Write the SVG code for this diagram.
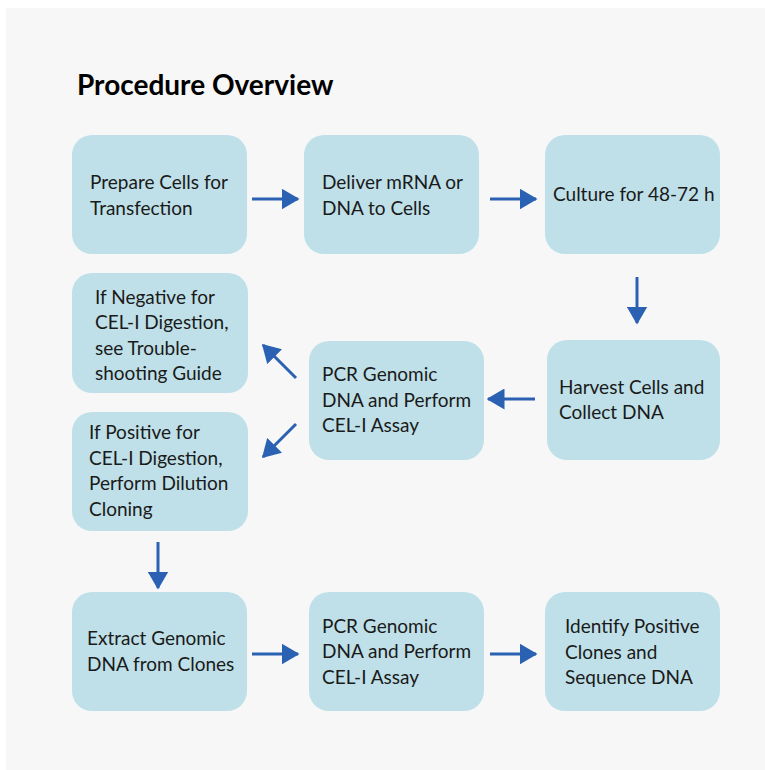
<svg xmlns="http://www.w3.org/2000/svg" width="765" height="770" viewBox="0 0 765 770">
<style>
.box{fill:#bfe0e8;}
.t{font-family:Lato,"Open Sans",sans-serif;font-size:19px;fill:#1a1a1a;}
.title{font-family:Lato,"Open Sans",sans-serif;font-size:28px;font-weight:bold;fill:#000;}
.c{stroke:#2b61b3;stroke-width:3;fill:none;marker-end:url(#ah);}
</style>
<defs>
<marker id="ah" markerWidth="6" markerHeight="7" refX="5.5" refY="3.5" orient="auto" markerUnits="strokeWidth">
<path d="M0,0 L6,3.5 L0,7 z" fill="#2b61b3"/>
</marker>
</defs>
<rect x="0" y="0" width="765" height="770" fill="#ffffff"/>
<rect x="6" y="8" width="759" height="762" fill="#f7f7f7"/>
<text class="title" x="77" y="95">Procedure Overview</text>
<g id="n1"><rect class="box" x="72" y="135" width="175" height="119" rx="20"/><text class="t" x="90" y="189">Prepare Cells for</text><text class="t" x="90" y="215">Transfection</text></g>
<g id="n2"><rect class="box" x="304" y="135" width="175" height="119" rx="20"/><text class="t" x="322" y="189">Deliver mRNA or</text><text class="t" x="322" y="215">DNA to Cells</text></g>
<g id="n3"><rect class="box" x="545" y="135" width="175" height="119" rx="20"/><text class="t" x="553" y="201">Culture for 48-72 h</text></g>
<g id="n4"><rect class="box" x="547" y="340" width="173" height="120" rx="20"/><text class="t" x="559" y="394">Harvest Cells and</text><text class="t" x="559" y="419">Collect DNA</text></g>
<g id="n5"><rect class="box" x="309" y="341" width="175" height="119" rx="20"/><text class="t" x="322" y="381">PCR Genomic</text><text class="t" x="322" y="407">DNA and Perform</text><text class="t" x="322" y="432">CEL-I Assay</text></g>
<g id="n6"><rect class="box" x="72" y="273" width="176" height="120" rx="20"/><text class="t" x="95" y="304">If Negative for</text><text class="t" x="95" y="329">CEL-I Digestion,</text><text class="t" x="95" y="355">see Trouble-</text><text class="t" x="95" y="380">shooting Guide</text></g>
<g id="n7"><rect class="box" x="72" y="412" width="176" height="119" rx="20"/><text class="t" x="89" y="439">If Positive for</text><text class="t" x="89" y="465">CEL-I Digestion,</text><text class="t" x="89" y="490">Perform Dilution</text><text class="t" x="89" y="516">Cloning</text></g>
<g id="n8"><rect class="box" x="72" y="592" width="175" height="119" rx="20"/><text class="t" x="87" y="645">Extract Genomic</text><text class="t" x="87" y="671">DNA from Clones</text></g>
<g id="n9"><rect class="box" x="309" y="592" width="175" height="119" rx="20"/><text class="t" x="322" y="633">PCR Genomic</text><text class="t" x="322" y="658">DNA and Perform</text><text class="t" x="322" y="684">CEL-I Assay</text></g>
<g id="n10"><rect class="box" x="545" y="592" width="175" height="119" rx="20"/><text class="t" x="565" y="633">Identify Positive</text><text class="t" x="565" y="659">Clones and</text><text class="t" x="565" y="684">Sequence DNA</text></g>
<g id="connectors">
<line class="c" x1="252" y1="199" x2="298" y2="199"/>
<line class="c" x1="490" y1="199" x2="536" y2="199"/>
<line class="c" x1="637" y1="277" x2="637" y2="323"/>
<line class="c" x1="535" y1="399" x2="488" y2="399"/>
<line class="c" x1="296" y1="378" x2="263" y2="345"/>
<line class="c" x1="296" y1="424" x2="263" y2="457"/>
<line class="c" x1="158" y1="542" x2="158" y2="588"/>
<line class="c" x1="252" y1="654" x2="298" y2="654"/>
<line class="c" x1="490" y1="654" x2="536" y2="654"/>
</g>
</svg>
